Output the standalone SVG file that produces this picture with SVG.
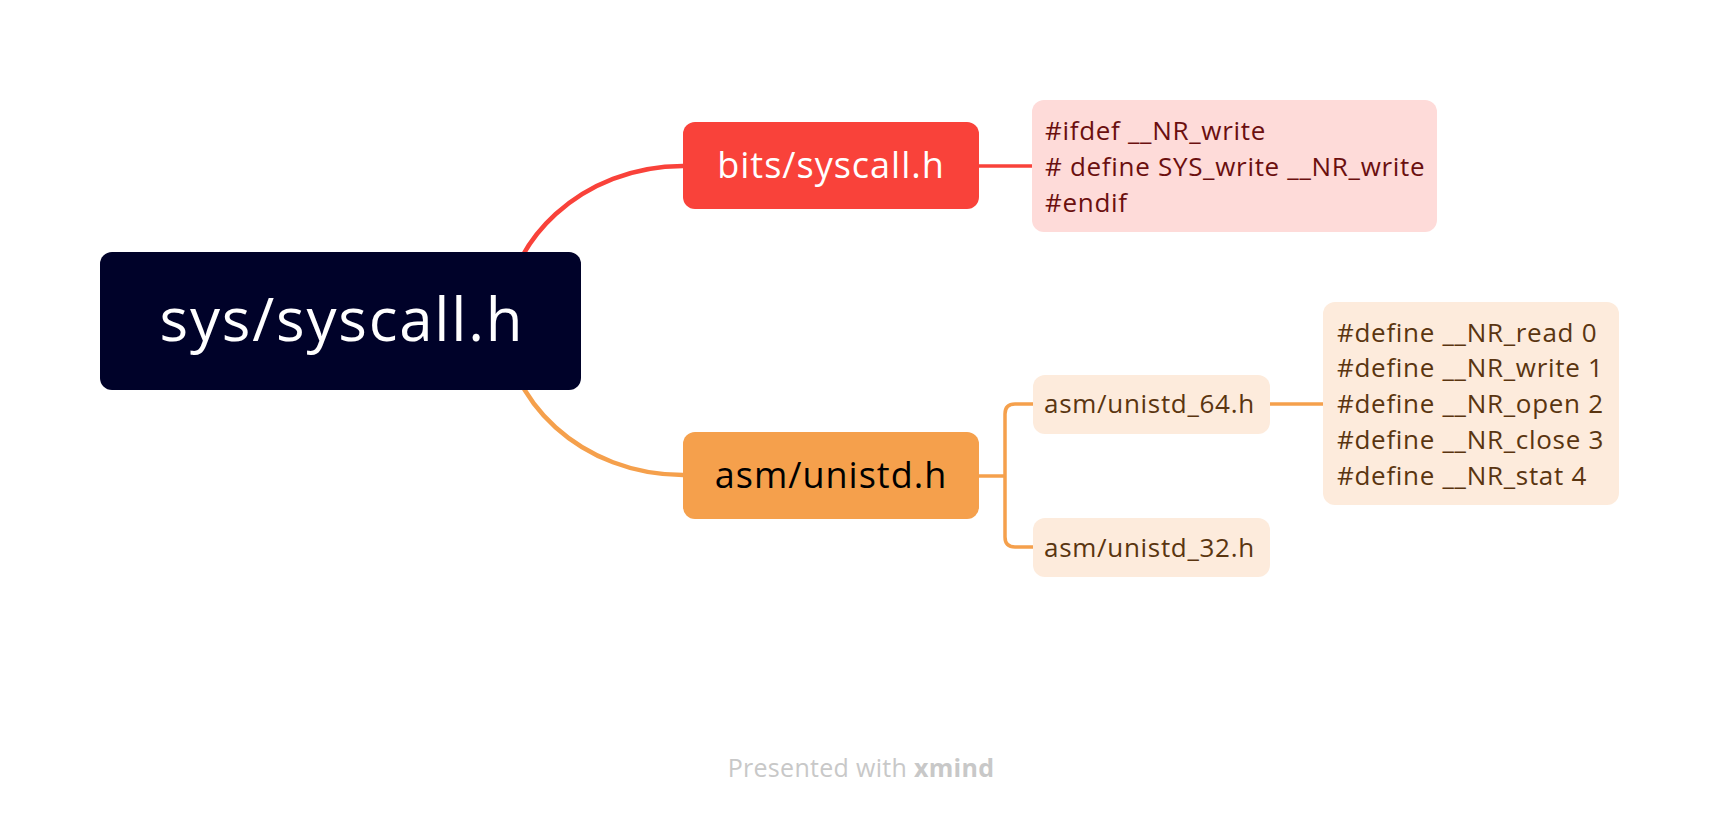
<svg xmlns="http://www.w3.org/2000/svg" width="1718" height="818" viewBox="0 0 1718 818">
  <style>
    text { font-family: "Open Sans", "Liberation Sans", sans-serif; }
    .central { font-size: 60px; letter-spacing: 1.8px; fill: #FFFFFF; text-anchor: middle; }
    .main { font-size: 36px; letter-spacing: 1px; text-anchor: middle; }
    .sub { font-size: 26px; letter-spacing: 0.7px; }
    .pinkText { fill: #6B0F0F; }
    .peachText { fill: #5A3510; }
    .conn { fill: none; stroke-linecap: butt; }
    .red { stroke: #F9423A; }
    .orange { stroke: #F5A04C; }
  </style>
  <rect width="1718" height="818" fill="#FFFFFF"/>
  <g id="connectors">
    <path class="conn red" stroke-width="4.5" d="M503 330 C503 239.4 583.6 166 683 166"/>
    <path class="conn orange" stroke-width="4.5" d="M503 312 C503 402.6 583.6 475 683 475"/>
    <path class="conn red" stroke-width="3.5" d="M978 166 H1033"/>
    <path class="conn orange" stroke-width="3.5" d="M978 476 H1005"/>
    <path class="conn orange" stroke-width="3.5" d="M1033 404 H1015 Q1005 404 1005 414 V537 Q1005 547 1015 547 H1033"/>
    <path class="conn orange" stroke-width="3.5" d="M1269 404 H1323"/>
  </g>
  <g id="node-central">
    <rect x="100" y="252" width="481" height="138" rx="12" fill="#000229"/>
    <text class="central" x="342" y="341">sys/syscall.h</text>
  </g>
  <g id="node-bits">
    <rect x="683" y="122" width="296" height="87" rx="12" fill="#F9423A"/>
    <text class="main" x="831" y="178" fill="#FFFFFF">bits/syscall.h</text>
  </g>
  <g id="node-bits-note">
    <rect x="1032" y="100" width="405" height="132" rx="12" fill="#FEDBD9"/>
    <text class="sub pinkText" x="1045" y="140">#ifdef __NR_write</text>
    <text class="sub pinkText" x="1045" y="176"># define SYS_write __NR_write</text>
    <text class="sub pinkText" x="1045" y="212">#endif</text>
  </g>
  <g id="node-asm">
    <rect x="683" y="432" width="296" height="87" rx="12" fill="#F5A04C"/>
    <text class="main" x="831" y="488" fill="#000000">asm/unistd.h</text>
  </g>
  <g id="node-unistd64">
    <rect x="1033" y="375" width="237" height="59" rx="12" fill="#FDEBDC"/>
    <text class="sub peachText" x="1044" y="413">asm/unistd_64.h</text>
  </g>
  <g id="node-unistd32">
    <rect x="1033" y="518" width="237" height="59" rx="12" fill="#FDEBDC"/>
    <text class="sub peachText" x="1044" y="557">asm/unistd_32.h</text>
  </g>
  <g id="node-defines">
    <rect x="1323" y="302" width="296" height="203" rx="12" fill="#FDEBDC"/>
    <text class="sub peachText" x="1337" y="342">#define __NR_read 0</text>
    <text class="sub peachText" x="1337" y="377">#define __NR_write 1</text>
    <text class="sub peachText" x="1337" y="413">#define __NR_open 2</text>
    <text class="sub peachText" x="1337" y="449">#define __NR_close 3</text>
    <text class="sub peachText" x="1337" y="485">#define __NR_stat 4</text>
  </g>
  <g id="watermark">
    <text x="861" y="777" font-size="25" letter-spacing="0.3" fill="#C8C8C8" text-anchor="middle">Presented with <tspan font-weight="bold">xmind</tspan></text>
  </g>
</svg>
